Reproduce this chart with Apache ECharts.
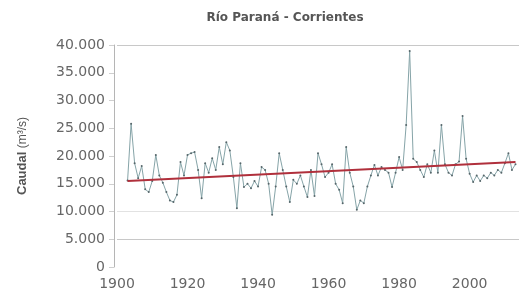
<!DOCTYPE html>
<html lang="es">
<head>
    <meta charset="utf-8">
    <title>Río Paraná - Corrientes</title>
    <script src="https://cdn.jsdelivr.net/npm/echarts@6/dist/echarts.min.js"></script>
    <style>
        html, body { margin: 0; padding: 0; background: #fff; }
    </style>
</head>
<body>

<div id="main" style="width:519px;height:293px;"></div>

<script type="text/javascript">

    // caudal medio anual (m3/s)
    var years = [];
    for (var y = 1903; y <= 2013; y++) years.push(y);

    var caudal = [
        15600, 25800, 18700, 16000, 18200, 14000, 13500, 15500, 20200, 16500,
        15200, 13500, 12000, 11700, 13000, 18900, 16500, 20200, 20500, 20700,
        17500, 12400, 18700, 17000, 19600, 17500, 21600, 18500, 22500, 21000,
        16200, 10600, 18700, 14400, 15000, 14200, 15500, 14500, 18000, 17500,
        15000, 9400, 14500, 20500, 17500, 14500, 11700, 15700, 15000, 16500,
        14500, 12600, 17500, 12800, 20500, 18500, 16200, 17000, 18500, 15000,
        13900, 11500, 21600, 17000, 14500, 10300, 12000, 11500, 14500, 16500,
        18400, 16500, 18000, 17500, 17000, 14400, 17000, 19800, 17500, 25600,
        38900, 19500, 18900, 17500, 16200, 18500, 17000, 21000, 17000, 25600,
        18500, 17000, 16500, 18500, 19000, 27200, 19500, 16800, 15300, 16500,
        15500, 16500, 16000, 17000, 16500, 17500, 17000, 18700, 20500, 17500,
        18500
    ];

    // tendencia lineal (extremos)
    var tendencia = [[1903, 15500], [2013, 18900]];

    var xTicks = [1900, 1920, 1940, 1960, 1980, 2000];
    var gridValues = [40000, 10000, 5000];

    var serie = years.map(function (yr, i) { return [yr, caudal[i]]; });

    // solo algunas líneas horizontales se ven en el original
    var splitColors = [];
    for (var v = 0; v <= 40000; v += 5000) {
        if (v === 10000) splitColors.push('#e2e2e2');
        else if (gridValues.indexOf(v) >= 0) splitColors.push('#c8c8c8');
        else splitColors.push('rgba(255,255,255,0)');
    }

    var myChart = echarts.init(document.getElementById('main'));

    option = {
        backgroundColor: '#ffffff',
        animation: false,
        title: {
            text: 'Río Paraná - Corrientes',
            left: 280,
            top: 7,
            textAlign: 'center',
            textStyle: {
                color: '#555',
                fontFamily: 'DejaVu Sans',
                fontWeight: 'bold',
                fontSize: 12
            }
        },
        grid: {
            left: 117,
            right: 0,
            top: 45,
            bottom: 26
        },
        xAxis: {
            type: 'value',
            min: 1900,
            max: 2014,
            interval: 20,
            axisLine: { show: false },
            axisTick: { show: false },
            splitLine: { show: false },
            axisLabel: {
                color: '#666',
                fontFamily: 'DejaVu Sans',
                fontSize: 14,
                margin: 10,
                showMaxLabel: false,
                formatter: function (v) { return xTicks.indexOf(v) >= 0 ? String(v) : ''; }
            }
        },
        yAxis: {
            type: 'value',
            min: 0,
            max: 40000,
            interval: 5000,
            offset: 3,
            name: '{b|Caudal} (m³/s)',
            nameLocation: 'middle',
            nameGap: 85,
            nameRotate: 90,
            nameTextStyle: {
                color: '#555',
                fontFamily: 'Liberation Sans',
                fontSize: 12,
                rich: {
                    b: { fontWeight: 'bold', fontSize: 13, color: '#555', fontFamily: 'Liberation Sans' }
                }
            },
            axisLine: { show: true, lineStyle: { color: '#b5b5b5', width: 1 } },
            axisTick: { show: true, length: 5, lineStyle: { color: '#cfcfcf' } },
            splitLine: { show: true, lineStyle: { color: splitColors, width: 1 } },
            axisLabel: {
                color: '#666',
                fontFamily: 'DejaVu Sans',
                fontSize: 14,
                margin: 9,
                formatter: function (v) {
                    return v === 0 ? '0' : (v / 1000).toFixed(3);
                }
            }
        },
        series: [
            {
                name: 'Caudal',
                type: 'line',
                data: serie,
                symbol: 'circle',
                symbolSize: 2,
                showSymbol: true,
                itemStyle: { color: '#56666a' },
                lineStyle: { color: '#86a4a8', width: 1 },
                z: 3
            },
            {
                name: 'Tendencia',
                type: 'line',
                data: tendencia,
                symbol: 'none',
                lineStyle: { color: '#b0303c', width: 2 },
                z: 4
            }
        ]
    };

    myChart.setOption(option);

</script>

</body>
</html>
